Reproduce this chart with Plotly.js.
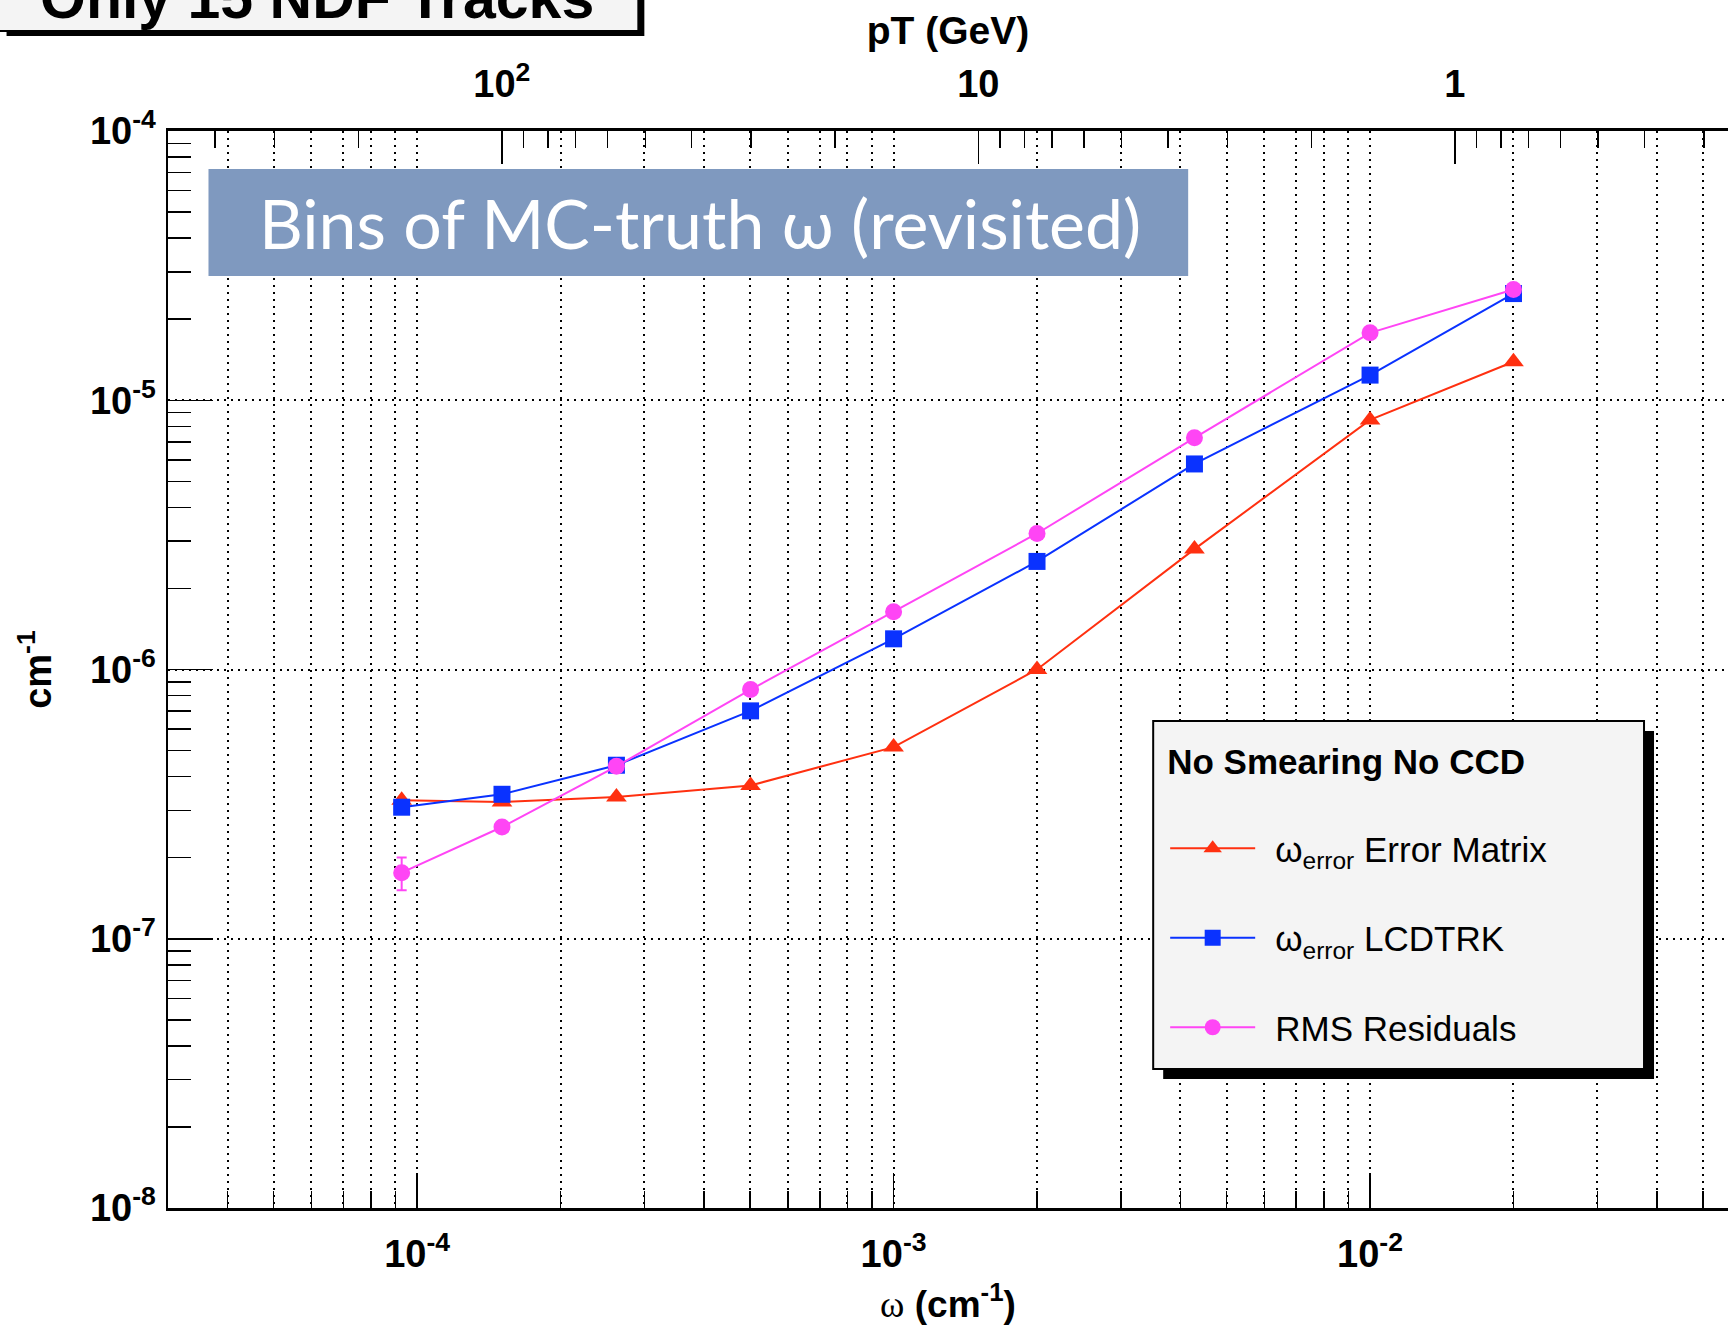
<!DOCTYPE html>
<html><head><meta charset="utf-8">
<script src="https://cdn.plot.ly/plotly-3.0.1.min.js"></script>
<style>html,body{margin:0;padding:0;background:#fff;} #chart{width:1728px;height:1329px;}</style>
</head><body><div id="chart"></div>
<script>
// ---- data ----
const omega      = [9.28e-5, 1.507e-4, 2.62e-4, 5.01e-4, 1.0e-3, 2.0e-3, 4.28e-3, 1.0e-2, 2.0e-2];
const errMatrix  = [3.27e-7, 3.22e-7, 3.36e-7, 3.71e-7, 5.15e-7, 1.0e-6, 2.80e-6, 8.45e-6, 1.39e-5];
const lcdtrk     = [3.08e-7, 3.44e-7, 4.41e-7, 7.02e-7, 1.30e-6, 2.52e-6, 5.80e-6, 1.24e-5, 2.49e-5];
const rmsResid   = [1.76e-7, 2.60e-7, 4.37e-7, 8.42e-7, 1.64e-6, 3.20e-6, 7.25e-6, 1.78e-5, 2.58e-5];
const rmsErr     = [0.245e-7, 0, 0, 0, 0, 0, 0, 0, 0];
const ptTicks    = [100, 10, 1];
const ptTickText = ['10<sup>2</sup>', '10', '1'];
const xTickVals  = [1e-4, 1e-3, 1e-2];
const xTickText  = ['10<sup>-4</sup>', '10<sup>-3</sup>', '10<sup>-2</sup>'];
const yTickVals  = [1e-8, 1e-7, 1e-6, 1e-5, 1e-4];
const yTickText  = ['10<sup>-8</sup>', '10<sup>-7</sup>', '10<sup>-6</sup>', '10<sup>-5</sup>', '10<sup>-4</sup>'];
const gap = '<span style="font-size:27px">\u00a0\u00a0</span>';
const seriesNames = [gap + '\u03c9<sub>error</sub> Error Matrix', gap + '\u03c9<sub>error</sub> LCDTRK', gap + 'RMS Residuals'];
const seriesColors = ['#ff3010', '#0a32ff', '#ff45f5'];
const omegaRange = [3.0e-5, 0.0564];
const ptScale = 0.01506;   // pT (GeV) = ptScale / omega

// ---- geometry helpers (layout decorations only) ----
const W = 1728, H = 1329;
const mL = 167.5, mT = 131, mB = 121, mR = 0;
const pw = W - mL - mR, ph = H - mT - mB;
const px = v => (v - mL) / pw;
const py = v => (H - mB - v) / ph;

const FONT = 'Liberation Sans, Arial, Helvetica, sans-serif';
const gridDash = '2px,5px';

function mkTrace(y, i, sym, size, extra) {
  return Object.assign({
    x: omega, y: y, type: 'scatter', mode: 'lines+markers', name: seriesNames[i],
    legendgroup: 'g' + i,
    line: {color: seriesColors[i], width: 2},
    marker: {color: seriesColors[i], symbol: sym, size: size},
    hoverinfo: 'x+y'
  }, extra || {});
}

const traces = [
  mkTrace(errMatrix, 0, 'triangle-up', 18),
  mkTrace(lcdtrk, 1, 'square', 17),
  mkTrace(rmsResid, 2, 'circle', 17, {
    error_y: {type: 'data', array: rmsErr, visible: true, color: seriesColors[2], thickness: 2, width: 5}
  }),
  { x: ptTicks, y: ptTicks.map(() => null), xaxis: 'x2', yaxis: 'y', type: 'scatter', mode: 'markers',
    showlegend: false, hoverinfo: 'skip', marker: {opacity: 0} }
];

const axisFont = {family: FONT, size: 38, color: 'black', weight: 'bold'};

const layout = {
  width: W, height: H,
  margin: {l: mL, r: mR, t: mT, b: mB, pad: 0},
  paper_bgcolor: 'white', plot_bgcolor: 'white',
  font: {family: FONT, color: 'black'},
  showlegend: true,
  xaxis: {
    type: 'log', range: [Math.log10(omegaRange[0]), Math.log10(omegaRange[1])],
    tickmode: 'array', tickvals: xTickVals, ticktext: xTickText,
    ticks: 'inside', ticklen: 35, tickwidth: 1.5, tickcolor: 'black',
    showline: true, linewidth: 3, linecolor: 'black', mirror: false,
    showgrid: true, gridcolor: 'black', gridwidth: 2, griddash: gridDash,
    zeroline: false,
    tickfont: axisFont, ticklabelstandoff: 10,
    minor: {dtick: 'D1', ticks: 'inside', ticklen: 17, tickwidth: 1.5, tickcolor: 'black',
            showgrid: true, gridcolor: 'black', gridwidth: 2, griddash: gridDash},
    title: {text: '<span style="font-family:Liberation Serif">\u03c9</span> <b>(cm<sup>-1</sup>)</b>',
            font: {family: FONT, size: 37, color: 'black'}, standoff: 18}
  },
  xaxis2: {
    type: 'log', overlaying: 'x', side: 'top', anchor: 'y',
    range: [Math.log10(ptScale / omegaRange[0]), Math.log10(ptScale / omegaRange[1])],
    tickmode: 'array', tickvals: ptTicks, ticktext: ptTickText,
    ticks: 'inside', ticklen: 33, tickwidth: 1.5, tickcolor: 'black',
    showline: true, linewidth: 3, linecolor: 'black',
    showgrid: false, zeroline: false,
    tickfont: axisFont, ticklabelstandoff: 16,
    minor: {dtick: 'D1', ticks: 'inside', ticklen: 17, tickwidth: 1.5, tickcolor: 'black', showgrid: false},
    title: {text: '<b>pT (GeV)</b>', font: {family: FONT, size: 39, color: 'black'}, standoff: 1}
  },
  yaxis: {
    type: 'log', range: [-8, -4],
    tickmode: 'array', tickvals: yTickVals, ticktext: yTickText,
    ticks: 'inside', ticklen: 45, tickwidth: 1.5, tickcolor: 'black',
    showline: true, linewidth: 2.5, linecolor: 'black',
    showgrid: true, gridcolor: 'black', gridwidth: 2, griddash: gridDash,
    zeroline: false, automargin: true,
    tickfont: axisFont, ticklabelstandoff: 2,
    minor: {dtick: 'D1', ticks: 'inside', ticklen: 23, tickwidth: 1.5, tickcolor: 'black', showgrid: false},
    title: {text: '<b>cm<sup>-1</sup></b>', font: {family: FONT, size: 38, color: 'black'}, standoff: 27}
  },
  legend: {
    x: px(1165), y: py(728), xanchor: 'left', yanchor: 'top',
    bgcolor: 'rgba(0,0,0,0)', borderwidth: 0,
    font: {family: FONT, size: 35, color: 'black'},
    title: {text: '<b>No Smearing No CCD</b><br>\u00a0', font: {family: FONT, size: 35, color: 'black'}},
    itemwidth: 85, tracegroupgap: 41, traceorder: 'grouped'
  },
  shapes: [
    {type: 'rect', xref: 'paper', yref: 'paper', x0: px(1163), x1: px(1654), y0: py(731), y1: py(1079),
     fillcolor: 'black', line: {width: 0}, layer: 'above'},
    {type: 'rect', xref: 'paper', yref: 'paper', x0: px(1153), x1: px(1644), y0: py(721), y1: py(1069),
     fillcolor: '#f4f4f4', line: {color: 'black', width: 2}, layer: 'above'},
    {type: 'rect', xref: 'paper', yref: 'paper', x0: px(208), x1: px(1188), y0: py(169), y1: py(276),
     fillcolor: '#7f99bf', line: {width: 0}, layer: 'above'},
    {type: 'rect', xref: 'paper', yref: 'paper', x0: px(6), x1: px(644), y0: py(-10), y1: py(36),
     fillcolor: 'black', line: {width: 0}, layer: 'above'},
    {type: 'rect', xref: 'paper', yref: 'paper', x0: px(-5), x1: px(638), y0: py(-10), y1: py(31),
     fillcolor: '#f4f4f4', line: {color: 'black', width: 2}, layer: 'above'}
  ],
  annotations: [
    {xref: 'paper', yref: 'paper', x: px(700), y: py(222), xanchor: 'center', yanchor: 'middle',
     text: 'Bins of MC-truth \u03c9 (revisited)', showarrow: false,
     font: {family: 'Lato, Noto Sans, sans-serif', size: 68, color: 'white'}},
    {xref: 'paper', yref: 'paper', x: px(317), y: py(-2), xanchor: 'center', yanchor: 'middle',
     text: '<b>Only 15 NDF Tracks</b>', showarrow: false,
     font: {family: FONT, size: 59, color: 'black'}}
  ]
};

Plotly.newPlot('chart', traces, layout, {displayModeBar: false, staticPlot: true});
</script></body></html>
